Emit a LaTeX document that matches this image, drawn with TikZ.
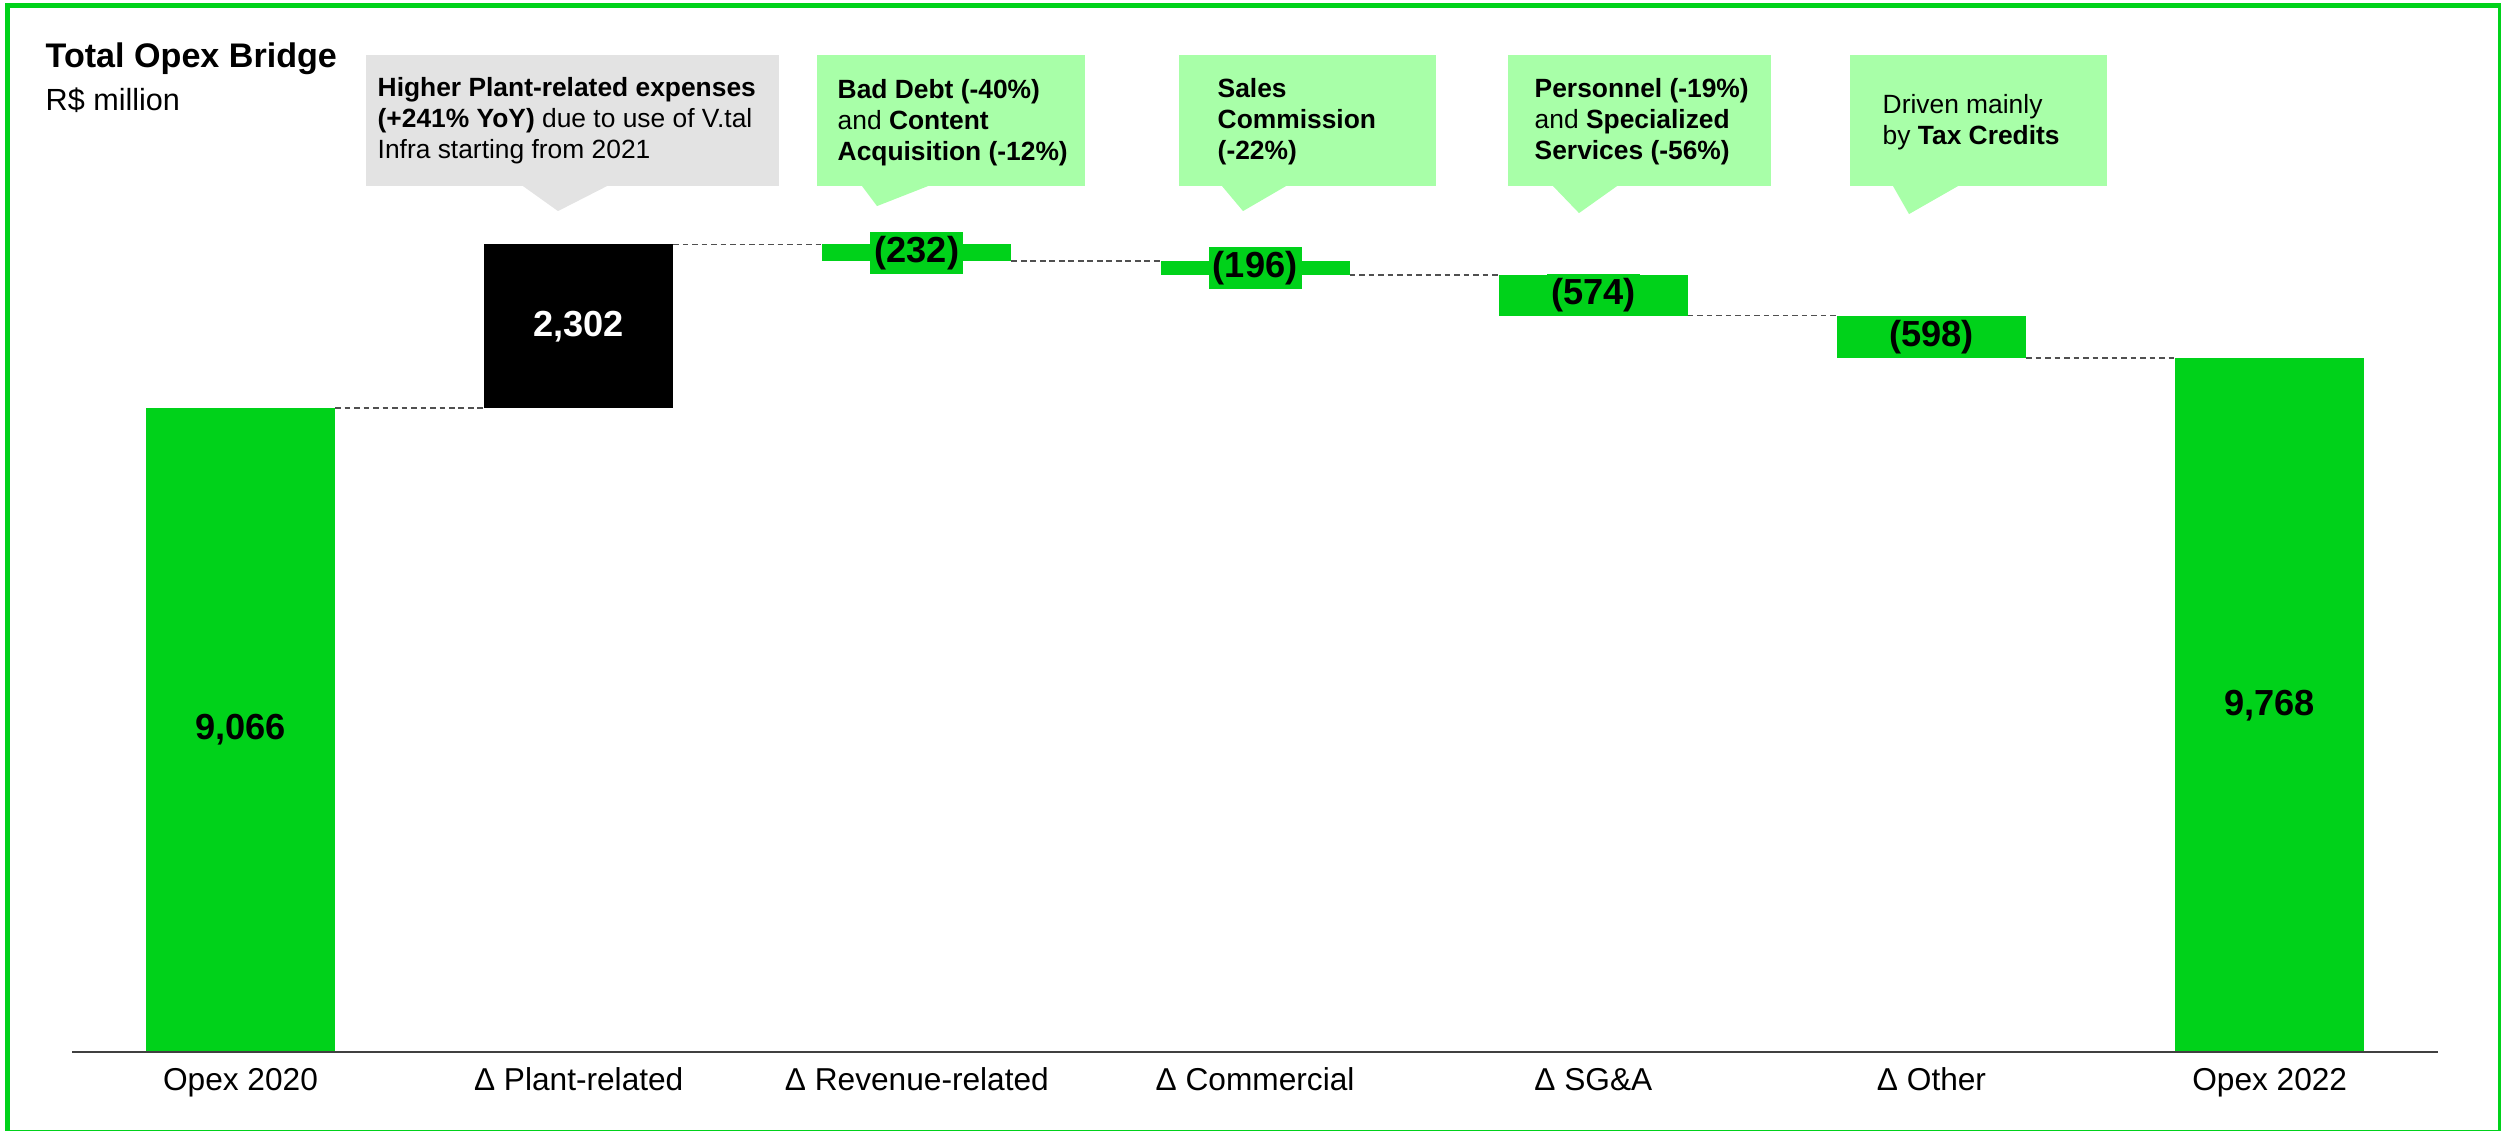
\documentclass[tikz,border=0pt]{standalone}
\usepackage{fontspec}
\setmainfont{Liberation Sans}
\usetikzlibrary{positioning}
\definecolor{oigreen}{RGB}{0,210,26}
\definecolor{notegreen}{RGB}{168,255,168}
\definecolor{notegray}{RGB}{227,227,227}
\definecolor{axisgray}{RGB}{64,64,64}
\definecolor{guidegray}{RGB}{80,80,80}

\begin{document}
\begin{tikzpicture}[x=0.01cm, y=-0.01cm,
    valfont/.style={font=\fontsize{10.3}{12}\selectfont\bfseries},
    total/.style={rectangle, fill=oigreen, minimum width=1.89cm, inner sep=0pt, outer sep=0pt, valfont},
    rise/.style={rectangle, fill=black, text=white, minimum width=1.89cm, inner sep=0pt, outer sep=0pt, valfont},
    fall/.style={rectangle, fill=oigreen, minimum width=1.89cm, inner sep=0pt, outer sep=0pt},
    delta/.style={rectangle, fill=oigreen, inner sep=1.2pt, valfont},
    guide/.style={draw=guidegray, line width=0.45pt, dash pattern=on 1.6pt off 1.1pt},
    axisline/.style={draw=axisgray, line width=0.7pt},
    cat/.style={anchor=base, inner sep=0pt, font=\fontsize{9}{11}\selectfont},
    note/.style={rectangle, fill=notegreen, inner sep=0pt, outer sep=0pt, anchor=north west, minimum height=1.31cm},
    notetext/.style={anchor=north west, inner sep=0pt, align=left, font=\fontsize{7.5}{8.8}\selectfont},
    frame/.style={draw=oigreen, line width=0.05cm}]
  \useasboundingbox (0,0) rectangle (2501,1130);
  \draw[frame] (7.5,5.5) rectangle (2500,1132);

  \node[anchor=base west, inner sep=0pt, font=\fontsize{9.7}{12}\selectfont\bfseries] (title) at (45,67) {Total Opex Bridge};
  \node[anchor=base west, inner sep=0pt, font=\fontsize{8.7}{10}\selectfont] (unit) at (45,110) {R\$ million};

  \node[total, minimum height=6.437cm, anchor=south] (b0) at (240.5,1052) {9,066};
  \node[rise, minimum height=1.634cm, right=1.49cm of b0.north east, anchor=south west] (b1) {2,302};
  \node[fall, minimum height=0.165cm, right=1.49cm of b1.north east, anchor=north west] (b2) {};
  \node[fall, minimum height=0.139cm, right=1.49cm of b2.south east, anchor=north west] (b3) {};
  \node[fall, minimum height=0.408cm, right=1.49cm of b3.south east, anchor=north west] (b4) {};
  \node[fall, minimum height=0.425cm, right=1.49cm of b4.south east, anchor=north west] (b5) {};
  \node[total, minimum height=6.935cm, right=1.49cm of b5.south east, anchor=north west] (b6) {9,768};

  \node[delta] (d2) at (b2) {(232)};
  \node[delta] (d3) at (b3) {(196)};
  \node[delta] (d4) at (b4) {(574)};
  \node[delta] (d5) at (b5) {(598)};

  \draw[guide] (b0.north east) -- (b1.south west);
  \draw[guide] (b1.north east) -- (b2.north west);
  \draw[guide] (b2.south east) -- (b3.north west);
  \draw[guide] (b3.south east) -- (b4.north west);
  \draw[guide] (b4.south east) -- (b5.north west);
  \draw[guide] (b5.south east) -- (b6.north west);

  \coordinate (ax0) at (72,1052);
  \coordinate (ax1) at (2438,1052);
  \draw[axisline] (ax0) -- (ax1);

  \coordinate (catline) at (0,1090);
  \node[cat] (c0) at (b0 |- catline) {Opex 2020};
  \node[cat] (c1) at (b1 |- catline) {Δ Plant-related};
  \node[cat] (c2) at (b2 |- catline) {Δ Revenue-related};
  \node[cat] (c3) at (b3 |- catline) {Δ Commercial};
  \node[cat] (c4) at (b4 |- catline) {Δ SG\&A};
  \node[cat] (c5) at (b5 |- catline) {Δ Other};
  \node[cat] (c6) at (b6 |- catline) {Opex 2022};

  \node[note, fill=notegray, minimum width=4.13cm] (n1) at (366,55) {};
  \fill[notegray] (n1.south west) ++(157,0) -- ++(35,25) -- ++(49,-25) -- cycle;
  \node[note, minimum width=2.68cm] (n2) at (817,55) {};
  \fill[notegreen] (n2.south west) ++(45,0) -- ++(15,20) -- ++(51,-20) -- cycle;
  \node[note, minimum width=2.57cm] (n3) at (1179,55) {};
  \fill[notegreen] (n3.south west) ++(43,0) -- ++(21,25) -- ++(43,-25) -- cycle;
  \node[note, minimum width=2.63cm] (n4) at (1508,55) {};
  \fill[notegreen] (n4.south west) ++(45,0) -- ++(26,27) -- ++(38,-27) -- cycle;
  \node[note, minimum width=2.57cm] (n5) at (1850,55) {};
  \fill[notegreen] (n5.south west) ++(43,0) -- ++(16,28) -- ++(49,-28) -- cycle;

  \node[notetext] (t1) at (377,77) {\textbf{Higher Plant-related expenses}\\\textbf{(+241\% YoY)} due to use of V.tal\\Infra starting from 2021};
  \node[notetext] (t2) at (837,79) {\textbf{Bad Debt (-40\%)}\\and \textbf{Content}\\\textbf{Acquisition (-12\%)}};
  \node[notetext] (t3) at (1217,78) {\textbf{Sales}\\\textbf{Commission}\\\textbf{(-22\%)}};
  \node[notetext] (t4) at (1534,78) {\textbf{Personnel (-19\%)}\\and \textbf{Specialized}\\\textbf{Services (-56\%)}};
  \node[notetext] (t5) at (1882,94) {Driven mainly\\by \textbf{Tax Credits}};
\end{tikzpicture}
\end{document}
